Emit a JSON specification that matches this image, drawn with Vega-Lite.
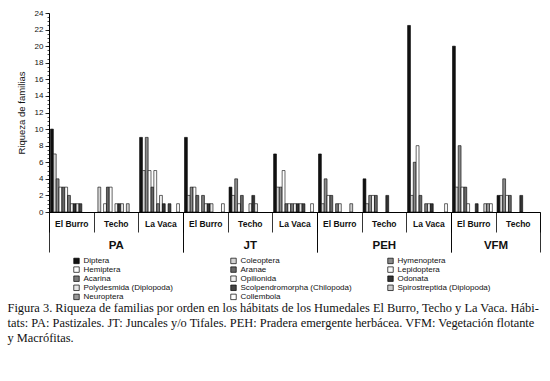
{
  "$schema": "https://vega.github.io/schema/vega-lite/v6.json",
  "background": "white",
  "padding": {"left": 7, "top": 9, "right": 6, "bottom": 4},
  "config": {"font": "Liberation Sans", "view": {"stroke": null}},
  "spacing": 0,
  "bounds": "flush",
  "title": {
    "text": [
      "Figura 3. Riqueza de familias por orden en los hábitats de los Humedales El Burro, Techo y La Vaca. Hábi-",
      "tats: PA: Pastizales. JT: Juncales y/o Tifales. PEH: Pradera emergente herbácea. VFM: Vegetación flotante",
      "y Macrófitas."
    ],
    "orient": "bottom", "anchor": "start", "frame": "group",
    "font": "Liberation Serif", "fontSize": 12.4, "fontWeight": "normal", "color": "#111",
    "lineHeight": 15, "offset": 0.5, "dx": -41.5
  },
  "data": {"values": [
    {"h":"PA","w":"El Burro","o":"Diptera","v":10},
    {"h":"PA","w":"El Burro","o":"Coleoptera","v":7},
    {"h":"PA","w":"El Burro","o":"Hymenoptera","v":4},
    {"h":"PA","w":"El Burro","o":"Hemiptera","v":3},
    {"h":"PA","w":"El Burro","o":"Aranae","v":3},
    {"h":"PA","w":"El Burro","o":"Lepidoptera","v":3},
    {"h":"PA","w":"El Burro","o":"Acarina","v":2},
    {"h":"PA","w":"El Burro","o":"Opilionida","v":1},
    {"h":"PA","w":"El Burro","o":"Odonata","v":1},
    {"h":"PA","w":"El Burro","o":"Polydesmida (Diplopoda)","v":1},
    {"h":"PA","w":"El Burro","o":"Scolpendromorpha (Chilopoda)","v":1},
    {"h":"PA","w":"Techo","o":"Coleoptera","v":3},
    {"h":"PA","w":"Techo","o":"Hemiptera","v":1},
    {"h":"PA","w":"Techo","o":"Aranae","v":3},
    {"h":"PA","w":"Techo","o":"Lepidoptera","v":3},
    {"h":"PA","w":"Techo","o":"Opilionida","v":1},
    {"h":"PA","w":"Techo","o":"Odonata","v":1},
    {"h":"PA","w":"Techo","o":"Polydesmida (Diplopoda)","v":1},
    {"h":"PA","w":"Techo","o":"Spirostreptida (Diplopoda)","v":1},
    {"h":"PA","w":"La Vaca","o":"Diptera","v":9},
    {"h":"PA","w":"La Vaca","o":"Coleoptera","v":5},
    {"h":"PA","w":"La Vaca","o":"Hymenoptera","v":9},
    {"h":"PA","w":"La Vaca","o":"Hemiptera","v":5},
    {"h":"PA","w":"La Vaca","o":"Aranae","v":3},
    {"h":"PA","w":"La Vaca","o":"Lepidoptera","v":5},
    {"h":"PA","w":"La Vaca","o":"Acarina","v":1},
    {"h":"PA","w":"La Vaca","o":"Opilionida","v":2},
    {"h":"PA","w":"La Vaca","o":"Odonata","v":1},
    {"h":"PA","w":"La Vaca","o":"Scolpendromorpha (Chilopoda)","v":1},
    {"h":"PA","w":"La Vaca","o":"Collembola","v":1},
    {"h":"JT","w":"El Burro","o":"Diptera","v":9},
    {"h":"JT","w":"El Burro","o":"Coleoptera","v":2},
    {"h":"JT","w":"El Burro","o":"Hymenoptera","v":3},
    {"h":"JT","w":"El Burro","o":"Hemiptera","v":3},
    {"h":"JT","w":"El Burro","o":"Aranae","v":2},
    {"h":"JT","w":"El Burro","o":"Acarina","v":2},
    {"h":"JT","w":"El Burro","o":"Opilionida","v":1},
    {"h":"JT","w":"El Burro","o":"Odonata","v":1},
    {"h":"JT","w":"El Burro","o":"Polydesmida (Diplopoda)","v":1},
    {"h":"JT","w":"El Burro","o":"Collembola","v":1},
    {"h":"JT","w":"Techo","o":"Diptera","v":3},
    {"h":"JT","w":"Techo","o":"Coleoptera","v":2},
    {"h":"JT","w":"Techo","o":"Hymenoptera","v":4},
    {"h":"JT","w":"Techo","o":"Hemiptera","v":1},
    {"h":"JT","w":"Techo","o":"Aranae","v":2},
    {"h":"JT","w":"Techo","o":"Opilionida","v":1},
    {"h":"JT","w":"Techo","o":"Odonata","v":2},
    {"h":"JT","w":"Techo","o":"Polydesmida (Diplopoda)","v":1},
    {"h":"JT","w":"La Vaca","o":"Diptera","v":7},
    {"h":"JT","w":"La Vaca","o":"Coleoptera","v":3},
    {"h":"JT","w":"La Vaca","o":"Hymenoptera","v":3},
    {"h":"JT","w":"La Vaca","o":"Hemiptera","v":5},
    {"h":"JT","w":"La Vaca","o":"Aranae","v":1},
    {"h":"JT","w":"La Vaca","o":"Lepidoptera","v":1},
    {"h":"JT","w":"La Vaca","o":"Acarina","v":1},
    {"h":"JT","w":"La Vaca","o":"Opilionida","v":1},
    {"h":"JT","w":"La Vaca","o":"Odonata","v":1},
    {"h":"JT","w":"La Vaca","o":"Polydesmida (Diplopoda)","v":1},
    {"h":"JT","w":"La Vaca","o":"Scolpendromorpha (Chilopoda)","v":1},
    {"h":"JT","w":"La Vaca","o":"Collembola","v":1},
    {"h":"PEH","w":"El Burro","o":"Diptera","v":7},
    {"h":"PEH","w":"El Burro","o":"Coleoptera","v":1},
    {"h":"PEH","w":"El Burro","o":"Hymenoptera","v":4},
    {"h":"PEH","w":"El Burro","o":"Hemiptera","v":2},
    {"h":"PEH","w":"El Burro","o":"Aranae","v":2},
    {"h":"PEH","w":"El Burro","o":"Acarina","v":1},
    {"h":"PEH","w":"El Burro","o":"Opilionida","v":1},
    {"h":"PEH","w":"El Burro","o":"Spirostreptida (Diplopoda)","v":1},
    {"h":"PEH","w":"Techo","o":"Diptera","v":4},
    {"h":"PEH","w":"Techo","o":"Coleoptera","v":1},
    {"h":"PEH","w":"Techo","o":"Hymenoptera","v":2},
    {"h":"PEH","w":"Techo","o":"Hemiptera","v":2},
    {"h":"PEH","w":"Techo","o":"Aranae","v":2},
    {"h":"PEH","w":"Techo","o":"Odonata","v":2},
    {"h":"PEH","w":"La Vaca","o":"Diptera","v":22.5},
    {"h":"PEH","w":"La Vaca","o":"Coleoptera","v":2},
    {"h":"PEH","w":"La Vaca","o":"Hymenoptera","v":6},
    {"h":"PEH","w":"La Vaca","o":"Hemiptera","v":8},
    {"h":"PEH","w":"La Vaca","o":"Aranae","v":2},
    {"h":"PEH","w":"La Vaca","o":"Acarina","v":1},
    {"h":"PEH","w":"La Vaca","o":"Opilionida","v":1},
    {"h":"PEH","w":"La Vaca","o":"Odonata","v":1},
    {"h":"PEH","w":"La Vaca","o":"Collembola","v":1},
    {"h":"VFM","w":"El Burro","o":"Diptera","v":20},
    {"h":"VFM","w":"El Burro","o":"Coleoptera","v":3},
    {"h":"VFM","w":"El Burro","o":"Hymenoptera","v":8},
    {"h":"VFM","w":"El Burro","o":"Hemiptera","v":3},
    {"h":"VFM","w":"El Burro","o":"Aranae","v":3},
    {"h":"VFM","w":"El Burro","o":"Lepidoptera","v":1},
    {"h":"VFM","w":"El Burro","o":"Odonata","v":1},
    {"h":"VFM","w":"El Burro","o":"Spirostreptida (Diplopoda)","v":1},
    {"h":"VFM","w":"El Burro","o":"Neuroptera","v":1},
    {"h":"VFM","w":"El Burro","o":"Collembola","v":1},
    {"h":"VFM","w":"Techo","o":"Diptera","v":2},
    {"h":"VFM","w":"Techo","o":"Coleoptera","v":2},
    {"h":"VFM","w":"Techo","o":"Hymenoptera","v":4},
    {"h":"VFM","w":"Techo","o":"Hemiptera","v":2},
    {"h":"VFM","w":"Techo","o":"Aranae","v":2},
    {"h":"VFM","w":"Techo","o":"Odonata","v":2}
  ]},
  "hconcat": [
    {
      "width": 133.65, "height": 199,
      "transform": [{"filter": "datum.h === 'PA'"}],
      "layer": [
        {
          "mark": {"type": "bar", "stroke": "#000", "strokeWidth": 0.6},
          "encoding": {
            "x": {"field": "w", "type": "nominal", "sort": ["El Burro", "Techo", "La Vaca"], "scale": {"paddingInner": 0, "paddingOuter": 0},
              "axis": {"orient": "bottom", "title": null, "tickBand": "extent", "tickSize": 20, "tickWidth": 0.8, "tickColor": "#000", "domainColor": "#000", "domainWidth": 1, "labelAngle": 0, "labelFont": "Liberation Sans", "labelFontWeight": "bold", "labelFontSize": 8.5, "labelColor": "#111", "labelPadding": -13, "grid": false}},
            "xOffset": {"field": "o", "type": "nominal", "scale": {"domain": ["Diptera","Coleoptera","Hymenoptera","Hemiptera","Aranae","Lepidoptera","Acarina","Opilionida","Odonata","Polydesmida (Diplopoda)","Scolpendromorpha (Chilopoda)","Spirostreptida (Diplopoda)","Neuroptera","Collembola"], "paddingInner": 0, "paddingOuter": 0.825, "align": 0.32}},
            "y": {"field": "v", "type": "quantitative", "stack": null, "scale": {"domain": [0, 24], "nice": false},
              "axis": {"orient": "left", "values": [0,2,4,6,8,10,12,14,16,18,20,22,24], "tickSize": 4, "tickWidth": 0.8, "tickColor": "#000", "domainColor": "#000", "domainWidth": 1, "labelFont": "Liberation Sans", "labelFontSize": 8, "labelColor": "#111", "labelPadding": 2, "grid": false, "title": "Riqueza de familias", "titleFont": "Liberation Sans", "titleFontSize": 9.5, "titleFontWeight": "normal", "titleColor": "#111", "titlePadding": 8}},
            "color": {"field": "o", "type": "nominal",
              "scale": {"domain": ["Diptera","Hemiptera","Acarina","Polydesmida (Diplopoda)","Neuroptera","Coleoptera","Aranae","Opilionida","Scolpendromorpha (Chilopoda)","Collembola","Hymenoptera","Lepidoptera","Odonata","Spirostreptida (Diplopoda)"],
                "range": ["#111111","#ffffff","#7a7a7a","#e6e6e6","#9a9a9a","#d2d2d2","#666666","#f0f0f0","#444444","#ffffff","#8a8a8a","#fbfbfb","#333333","#cccccc"]},
              "legend": {"orient": "none", "legendX": 23.5, "legendY": 243.5, "title": null, "columns": 3, "gridAlign": "all", "columnPadding": 33, "rowPadding": -0.9, "symbolType": "square", "symbolSize": 30, "symbolStrokeColor": "#000", "symbolStrokeWidth": 0.7, "labelFont": "Liberation Sans", "labelFontSize": 8, "labelColor": "#111", "labelOffset": 3, "padding": 0,
                "encode": {"symbols": {"update": {"stroke": {"value": "#000"}, "strokeWidth": {"value": 0.7}}}}}}
          }
        },
        {
          "mark": {"type": "bar", "opacity": 0},
          "encoding": {
            "x": {"field": "h", "type": "nominal", "scale": {"paddingInner": 0, "paddingOuter": 0},
              "axis": {"orient": "bottom", "title": null, "tickBand": "extent", "tickSize": 40, "tickWidth": 0.8, "tickColor": "#000", "domain": false, "labelAngle": 0, "labelFont": "Liberation Sans", "labelFontWeight": "bold", "labelFontSize": 11.5, "labelColor": "#111", "labelPadding": -13, "grid": false}},
            "y": {"field": "v", "type": "quantitative", "stack": null, "scale": {"domain": [0, 24], "nice": false},
              "axis": {"orient": "left", "values": [0,0.5,1,1.5,2,2.5,3,3.5,4,4.5,5,5.5,6,6.5,7,7.5,8,8.5,9,9.5,10,10.5,11,11.5,12,12.5,13,13.5,14,14.5,15,15.5,16,16.5,17,17.5,18,18.5,19,19.5,20,20.5,21,21.5,22,22.5,23,23.5,24], "tickSize": 2, "tickWidth": 0.7, "tickColor": "#000", "labels": false, "domain": false, "grid": false, "title": null}}
          }
        }
      ],
      "resolve": {"scale": {"x": "independent"}, "axis": {"x": "independent", "y": "independent"}}
    },
    {
      "width": 133.65, "height": 199,
      "transform": [{"filter": "datum.h === 'JT'"}],
      "layer": [
        {
          "mark": {"type": "bar", "stroke": "#000", "strokeWidth": 0.6},
          "encoding": {
            "x": {"field": "w", "type": "nominal", "sort": ["El Burro", "Techo", "La Vaca"], "scale": {"paddingInner": 0, "paddingOuter": 0},
              "axis": {"orient": "bottom", "title": null, "tickBand": "extent", "tickSize": 20, "tickWidth": 0.8, "tickColor": "#000", "domainColor": "#000", "domainWidth": 1, "labelAngle": 0, "labelFont": "Liberation Sans", "labelFontWeight": "bold", "labelFontSize": 8.5, "labelColor": "#111", "labelPadding": -13, "grid": false}},
            "xOffset": {"field": "o", "type": "nominal", "scale": {"domain": ["Diptera","Coleoptera","Hymenoptera","Hemiptera","Aranae","Lepidoptera","Acarina","Opilionida","Odonata","Polydesmida (Diplopoda)","Scolpendromorpha (Chilopoda)","Spirostreptida (Diplopoda)","Neuroptera","Collembola"], "paddingInner": 0, "paddingOuter": 0.825, "align": 0.32}},
            "y": {"field": "v", "type": "quantitative", "stack": null, "scale": {"domain": [0, 24], "nice": false}, "axis": null},
            "color": {"field": "o", "type": "nominal",
              "scale": {"domain": ["Diptera","Hemiptera","Acarina","Polydesmida (Diplopoda)","Neuroptera","Coleoptera","Aranae","Opilionida","Scolpendromorpha (Chilopoda)","Collembola","Hymenoptera","Lepidoptera","Odonata","Spirostreptida (Diplopoda)"],
                "range": ["#111111","#ffffff","#7a7a7a","#e6e6e6","#9a9a9a","#d2d2d2","#666666","#f0f0f0","#444444","#ffffff","#8a8a8a","#fbfbfb","#333333","#cccccc"]},
              "legend": {"orient": "none", "legendX": 23.5, "legendY": 243.5, "title": null, "columns": 3, "gridAlign": "all", "columnPadding": 33, "rowPadding": -0.9, "symbolType": "square", "symbolSize": 30, "symbolStrokeColor": "#000", "symbolStrokeWidth": 0.7, "labelFont": "Liberation Sans", "labelFontSize": 8, "labelColor": "#111", "labelOffset": 3, "padding": 0,
                "encode": {"symbols": {"update": {"stroke": {"value": "#000"}, "strokeWidth": {"value": 0.7}}}}}}
          }
        },
        {
          "mark": {"type": "bar", "opacity": 0},
          "encoding": {
            "x": {"field": "h", "type": "nominal", "scale": {"paddingInner": 0, "paddingOuter": 0},
              "axis": {"orient": "bottom", "title": null, "tickBand": "extent", "tickSize": 40, "tickWidth": 0.8, "tickColor": "#000", "domain": false, "labelAngle": 0, "labelFont": "Liberation Sans", "labelFontWeight": "bold", "labelFontSize": 11.5, "labelColor": "#111", "labelPadding": -13, "grid": false}},
            "y": {"field": "v", "type": "quantitative", "stack": null, "scale": {"domain": [0, 24], "nice": false}, "axis": null}
          }
        }
      ],
      "resolve": {"scale": {"x": "independent"}, "axis": {"x": "independent", "y": "independent"}}
    },
    {
      "width": 133.65, "height": 199,
      "transform": [{"filter": "datum.h === 'PEH'"}],
      "layer": [
        {
          "mark": {"type": "bar", "stroke": "#000", "strokeWidth": 0.6},
          "encoding": {
            "x": {"field": "w", "type": "nominal", "sort": ["El Burro", "Techo", "La Vaca"], "scale": {"paddingInner": 0, "paddingOuter": 0},
              "axis": {"orient": "bottom", "title": null, "tickBand": "extent", "tickSize": 20, "tickWidth": 0.8, "tickColor": "#000", "domainColor": "#000", "domainWidth": 1, "labelAngle": 0, "labelFont": "Liberation Sans", "labelFontWeight": "bold", "labelFontSize": 8.5, "labelColor": "#111", "labelPadding": -13, "grid": false}},
            "xOffset": {"field": "o", "type": "nominal", "scale": {"domain": ["Diptera","Coleoptera","Hymenoptera","Hemiptera","Aranae","Lepidoptera","Acarina","Opilionida","Odonata","Polydesmida (Diplopoda)","Scolpendromorpha (Chilopoda)","Spirostreptida (Diplopoda)","Neuroptera","Collembola"], "paddingInner": 0, "paddingOuter": 0.825, "align": 0.32}},
            "y": {"field": "v", "type": "quantitative", "stack": null, "scale": {"domain": [0, 24], "nice": false}, "axis": null},
            "color": {"field": "o", "type": "nominal",
              "scale": {"domain": ["Diptera","Hemiptera","Acarina","Polydesmida (Diplopoda)","Neuroptera","Coleoptera","Aranae","Opilionida","Scolpendromorpha (Chilopoda)","Collembola","Hymenoptera","Lepidoptera","Odonata","Spirostreptida (Diplopoda)"],
                "range": ["#111111","#ffffff","#7a7a7a","#e6e6e6","#9a9a9a","#d2d2d2","#666666","#f0f0f0","#444444","#ffffff","#8a8a8a","#fbfbfb","#333333","#cccccc"]},
              "legend": {"orient": "none", "legendX": 23.5, "legendY": 243.5, "title": null, "columns": 3, "gridAlign": "all", "columnPadding": 33, "rowPadding": -0.9, "symbolType": "square", "symbolSize": 30, "symbolStrokeColor": "#000", "symbolStrokeWidth": 0.7, "labelFont": "Liberation Sans", "labelFontSize": 8, "labelColor": "#111", "labelOffset": 3, "padding": 0,
                "encode": {"symbols": {"update": {"stroke": {"value": "#000"}, "strokeWidth": {"value": 0.7}}}}}}
          }
        },
        {
          "mark": {"type": "bar", "opacity": 0},
          "encoding": {
            "x": {"field": "h", "type": "nominal", "scale": {"paddingInner": 0, "paddingOuter": 0},
              "axis": {"orient": "bottom", "title": null, "tickBand": "extent", "tickSize": 40, "tickWidth": 0.8, "tickColor": "#000", "domain": false, "labelAngle": 0, "labelFont": "Liberation Sans", "labelFontWeight": "bold", "labelFontSize": 11.5, "labelColor": "#111", "labelPadding": -13, "grid": false}},
            "y": {"field": "v", "type": "quantitative", "stack": null, "scale": {"domain": [0, 24], "nice": false}, "axis": null}
          }
        }
      ],
      "resolve": {"scale": {"x": "independent"}, "axis": {"x": "independent", "y": "independent"}}
    },
    {
      "width": 89.1, "height": 199,
      "transform": [{"filter": "datum.h === 'VFM'"}],
      "layer": [
        {
          "mark": {"type": "bar", "stroke": "#000", "strokeWidth": 0.6},
          "encoding": {
            "x": {"field": "w", "type": "nominal", "sort": ["El Burro", "Techo"], "scale": {"paddingInner": 0, "paddingOuter": 0},
              "axis": {"orient": "bottom", "title": null, "tickBand": "extent", "tickSize": 20, "tickWidth": 0.8, "tickColor": "#000", "domainColor": "#000", "domainWidth": 1, "labelAngle": 0, "labelFont": "Liberation Sans", "labelFontWeight": "bold", "labelFontSize": 8.5, "labelColor": "#111", "labelPadding": -13, "grid": false}},
            "xOffset": {"field": "o", "type": "nominal", "scale": {"domain": ["Diptera","Coleoptera","Hymenoptera","Hemiptera","Aranae","Lepidoptera","Acarina","Opilionida","Odonata","Polydesmida (Diplopoda)","Scolpendromorpha (Chilopoda)","Spirostreptida (Diplopoda)","Neuroptera","Collembola"], "paddingInner": 0, "paddingOuter": 0.825, "align": 0.32}},
            "y": {"field": "v", "type": "quantitative", "stack": null, "scale": {"domain": [0, 24], "nice": false}, "axis": null},
            "color": {"field": "o", "type": "nominal",
              "scale": {"domain": ["Diptera","Hemiptera","Acarina","Polydesmida (Diplopoda)","Neuroptera","Coleoptera","Aranae","Opilionida","Scolpendromorpha (Chilopoda)","Collembola","Hymenoptera","Lepidoptera","Odonata","Spirostreptida (Diplopoda)"],
                "range": ["#111111","#ffffff","#7a7a7a","#e6e6e6","#9a9a9a","#d2d2d2","#666666","#f0f0f0","#444444","#ffffff","#8a8a8a","#fbfbfb","#333333","#cccccc"]},
              "legend": {"orient": "none", "legendX": 23.5, "legendY": 243.5, "title": null, "columns": 3, "gridAlign": "all", "columnPadding": 33, "rowPadding": -0.9, "symbolType": "square", "symbolSize": 30, "symbolStrokeColor": "#000", "symbolStrokeWidth": 0.7, "labelFont": "Liberation Sans", "labelFontSize": 8, "labelColor": "#111", "labelOffset": 3, "padding": 0,
                "encode": {"symbols": {"update": {"stroke": {"value": "#000"}, "strokeWidth": {"value": 0.7}}}}}}
          }
        },
        {
          "mark": {"type": "bar", "opacity": 0},
          "encoding": {
            "x": {"field": "h", "type": "nominal", "scale": {"paddingInner": 0, "paddingOuter": 0},
              "axis": {"orient": "bottom", "title": null, "tickBand": "extent", "tickSize": 40, "tickWidth": 0.8, "tickColor": "#000", "domain": false, "labelAngle": 0, "labelFont": "Liberation Sans", "labelFontWeight": "bold", "labelFontSize": 11.5, "labelColor": "#111", "labelPadding": -13, "grid": false}},
            "y": {"field": "v", "type": "quantitative", "stack": null, "scale": {"domain": [0, 24], "nice": false}, "axis": null}
          }
        }
      ],
      "resolve": {"scale": {"x": "independent"}, "axis": {"x": "independent", "y": "independent"}}
    }
  ],
  "resolve": {"scale": {"color": "shared", "y": "shared"}}
}
